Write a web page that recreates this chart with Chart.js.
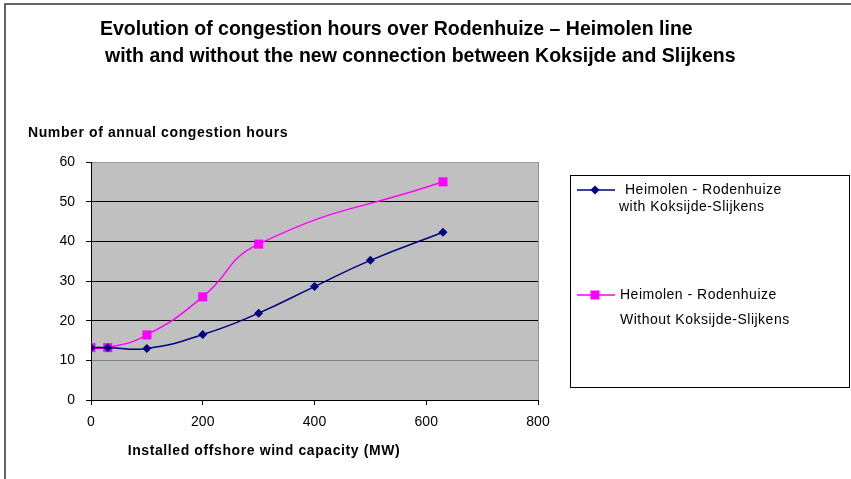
<!DOCTYPE html>
<html><head><meta charset="utf-8">
<script src="https://cdn.jsdelivr.net/npm/chart.js@4"></script>
<style>html,body{margin:0;padding:0;background:#fff}#wrap{position:relative;width:851px;height:479px}</style>
</head><body><div id="wrap"><canvas id="c" width="851" height="479"></canvas></div>
<script>
const titleLine1 = 'Evolution of congestion hours over Rodenhuize \u2013 Heimolen line';
const titleLine2 = 'with and without the new connection between Koksijde and Slijkens';
const yAxisTitle = 'Number of annual congestion hours';
const xAxisTitle = 'Installed offshore wind capacity (MW)';
const seriesNames = [['Heimolen - Rodenhuize', 'with Koksijde-Slijkens'], ['Heimolen - Rodenhuize', 'Without Koksijde-Slijkens']];

const capacityWith = [0, 30, 100, 200, 300, 400, 500, 630];
const hoursWith = [13.2, 13.2, 13.0, 16.5, 21.9, 28.6, 35.2, 42.3];
const capacityWithout = [0, 30, 100, 200, 300, 630];
const hoursWithout = [13.2, 13.2, 16.4, 26.0, 39.3, 55.0];

const xMin = 0, xMax = 800, xStep = 200;
const yMin = 0, yMax = 60, yStep = 10;

const NAVY = '#000080', PINK = '#FF00FF';
const FONT = '"Liberation Sans", Arial, sans-serif';

function diamond(ctx, x, y, r, color) {
  ctx.beginPath();
  ctx.moveTo(x - r, y); ctx.lineTo(x, y - r); ctx.lineTo(x + r, y); ctx.lineTo(x, y + r); ctx.closePath();
  ctx.fillStyle = color; ctx.fill();
}
function square(ctx, x, y, s, color) {
  ctx.fillStyle = color; ctx.fillRect(x - s / 2, y - s / 2, s, s);
}

const decor = {
  id: 'decor',
  beforeDraw(chart) {
    const ctx = chart.ctx, a = chart.chartArea;
    ctx.save();
    ctx.fillStyle = '#fff'; ctx.fillRect(0, 0, chart.width, chart.height);
    ctx.strokeStyle = '#333'; ctx.lineWidth = 1.5;
    ctx.strokeRect(5, 4, 900, 600);
    ctx.fillStyle = '#C0C0C0';
    ctx.fillRect(a.left, a.top, a.right - a.left, a.bottom - a.top);
    ctx.restore();
  },
  afterDraw(chart) {
    const ctx = chart.ctx, a = chart.chartArea;
    ctx.save();
    ctx.strokeStyle = '#909090'; ctx.lineWidth = 1;
    ctx.beginPath(); ctx.moveTo(Math.round(a.right) + 0.5, a.top); ctx.lineTo(Math.round(a.right) + 0.5, a.bottom); ctx.stroke();
    ctx.fillStyle = '#000'; ctx.textBaseline = 'middle';
    ctx.font = 'bold 19.5px ' + FONT; ctx.textAlign = 'left';
    ctx.fillText(titleLine1, 100, 30);
    ctx.fillText(titleLine2, 105, 57);
    ctx.font = 'bold 14px ' + FONT;
    ctx.letterSpacing = '0.6px';
    ctx.fillText(yAxisTitle, 28, 133);
    ctx.textAlign = 'center';
    ctx.fillText(xAxisTitle, 264, 451);
    ctx.letterSpacing = '0px';
    ctx.strokeStyle = '#000'; ctx.lineWidth = 1;
    ctx.strokeRect(570.5, 175.5, 279, 212);
    ctx.lineWidth = 1.5;
    ctx.strokeStyle = NAVY;
    ctx.beginPath(); ctx.moveTo(577, 190); ctx.lineTo(615, 190); ctx.stroke();
    diamond(ctx, 595, 190, 4.5, NAVY);
    ctx.strokeStyle = PINK;
    ctx.beginPath(); ctx.moveTo(577, 295); ctx.lineTo(615, 295); ctx.stroke();
    square(ctx, 595, 295, 9, PINK);
    ctx.fillStyle = '#000'; ctx.font = '14px ' + FONT; ctx.textAlign = 'left';
    ctx.letterSpacing = '0.5px';
    ctx.fillText(seriesNames[0][0], 625, 190);
    ctx.fillText(seriesNames[0][1], 619, 207);
    ctx.fillText(seriesNames[1][0], 620, 295);
    ctx.fillText(seriesNames[1][1], 620, 320);
    ctx.restore();
  }
};

new Chart(document.getElementById('c'), {
  type: 'scatter',
  data: {
    datasets: [
      {
        label: seriesNames[0].join(' '),
        data: capacityWith.map((x, i) => ({ x, y: hoursWith[i] })),
        showLine: true, borderColor: NAVY, backgroundColor: NAVY, borderWidth: 1.5,
        pointStyle: 'rectRot', pointRadius: 4.5, pointBorderWidth: 0, tension: 0.5
      },
      {
        label: seriesNames[1].join(' '),
        data: capacityWithout.map((x, i) => ({ x, y: hoursWithout[i] })),
        showLine: true, borderColor: PINK, backgroundColor: PINK, borderWidth: 1.5,
        pointStyle: 'rect', pointRadius: 6.4, pointBorderWidth: 0, tension: 0.5
      }
    ]
  },
  options: {
    responsive: false, animation: false, devicePixelRatio: 1,
    layout: { padding: { top: 162, right: 313, left: 0, bottom: 0 } },
    plugins: { legend: { display: false }, title: { display: false }, tooltip: { enabled: false } },
    scales: {
      x: {
        type: 'linear', min: xMin, max: xMax,
        ticks: { stepSize: xStep, color: '#000', font: { family: FONT, size: 14 }, padding: 9, maxRotation: 0 },
        grid: { drawOnChartArea: false, drawTicks: true, tickLength: 5, tickColor: '#000' },
        border: { color: '#000', width: 1 },
        afterFit(s) { s.height = 79; }
      },
      y: {
        type: 'linear', min: yMin, max: yMax,
        ticks: { stepSize: yStep, color: '#000', font: { family: FONT, size: 14 }, padding: 11 },
        grid: {
          drawTicks: true, tickLength: 5, tickColor: '#000',
          color: (c) => c.tick.value === 10 ? '#808080' : (c.tick.value === 60 ? '#999999' : '#000'),
          lineWidth: 1
        },
        border: { color: '#000', width: 1 },
        afterFit(s) { s.width = 91; }
      }
    }
  },
  plugins: [decor]
});
</script></body></html>
